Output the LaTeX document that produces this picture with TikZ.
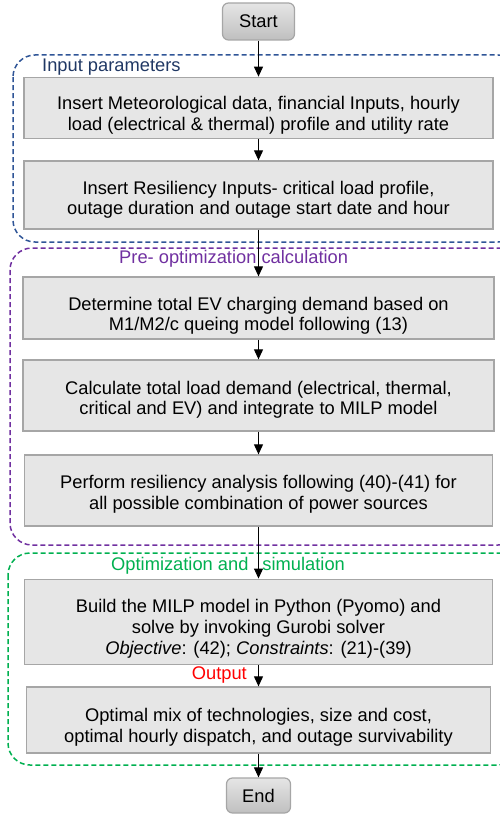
\documentclass[tikz,border=0pt]{standalone}
\usepackage{fontspec}
\setmainfont{Liberation Sans}
\usetikzlibrary{arrows.meta}
\definecolor{boxfill}{HTML}{E6E6E6}
\definecolor{boxline}{HTML}{A6A6A6}
\definecolor{grpblue}{HTML}{2F5597}
\definecolor{lblblue}{HTML}{203864}
\definecolor{grppurple}{HTML}{7030A0}
\definecolor{grpgreen}{HTML}{00B050}
\tikzset{
  stepbox/.style={draw=boxline, fill=boxfill, line width=1.3pt, minimum width=469pt, inner sep=0pt, align=center, font=\fontsize{18.3}{20.7}\selectfont},
  termbox/.style={draw=boxline, top color=black!10, bottom color=black!25, line width=1.2pt, rounded corners=6pt, inner sep=0pt, font=\fontsize{18.3}{21}\selectfont},
  group/.style={dashed, dash pattern=on 5pt off 3pt, line width=1.5pt, rounded corners=22pt},
  grplabel/.style={inner sep=0pt, font=\fontsize{18.3}{21}\selectfont},
  flow/.style={-{Triangle[length=10pt,width=9pt]}, line width=1pt, black}
}
\begin{document}
\begin{tikzpicture}[x=1pt,y=-1pt]
\useasboundingbox (0,0) rectangle (500,816);
\clip (0,0) rectangle (500,816);
% groups
\draw[group, draw=grpblue] (13,55) rectangle (520,242);
\draw[group, draw=grppurple] (10,248) rectangle (520,545);
\draw[group, draw=grpgreen] (8,553) rectangle (520,765);
% nodes
\node[termbox, minimum width=72pt, minimum height=37pt] (start) at (258.5,21.5) {Start};
\node[stepbox, minimum height=61pt, text height=48.5pt] (b1) at (258.5,107.8) {Insert Meteorological data, financial Inputs, hourly\\load (electrical \& thermal) profile and utility rate};
\node[stepbox, minimum height=68pt, text height=43.5pt] (b2) at (258.5,195) {Insert Resiliency Inputs- critical load profile,\\outage duration and outage start date and hour};
\node[stepbox, minimum width=471pt, minimum height=62pt, text height=49.5pt] (b3) at (258.5,308) {Determine total EV charging demand based on\\M1/M2/c queing model following (13)};
\node[stepbox, minimum width=471pt, minimum height=71pt, text height=42.5pt] (b4) at (258.5,395.5) {Calculate total load demand (electrical, thermal,\\critical and EV) and integrate to MILP model};
\node[stepbox, minimum width=468pt, minimum height=71pt, text height=41.5pt] (b5) at (258.5,490.5) {Perform resiliency analysis following (40)-(41) for\\all possible combination of power sources};
\node[stepbox, minimum width=468pt, minimum height=85pt, text height=69pt] (b6) at (258.5,621.7) {Build the MILP model in Python (Pyomo) and\\solve by invoking Gurobi solver\\\textit{Objective}: (42); \textit{Constraints}: (21)-(39)};
\node[stepbox, minimum width=464pt, minimum height=66pt, text height=48.5pt] (b7) at (258.5,720) {Optimal mix of technologies, size and cost,\\optimal hourly dispatch, and outage survivability};
\node[termbox, minimum width=64pt, minimum height=35pt] (end) at (258.5,795.5) {End};
% labels
\node[grplabel, text=lblblue, anchor=west] (l1) at (42,67) {Input parameters};
\node[grplabel, text=grppurple, anchor=west] (l2) at (119,259) {Pre- optimization calculation};
\node[grplabel, text=grpgreen, anchor=west] (l3) at (111,566) {Optimization and\hspace{14pt}simulation};
\node[grplabel, text=red, anchor=east] (l4) at (247,675) {Output};
% connectors
\draw[flow] (start.south) -- (b1.north);
\draw[flow] (b1.south) -- (b2.north);
\draw[flow] (b2.south) -- (b3.north);
\draw[flow] (b3.south) -- (b4.north);
\draw[flow] (b4.south) -- (b5.north);
\draw[flow] (b5.south) -- (b6.north);
\draw[flow] (b6.south) -- (b7.north);
\draw[flow] (b7.south) -- (end.north);
\end{tikzpicture}
\end{document}
